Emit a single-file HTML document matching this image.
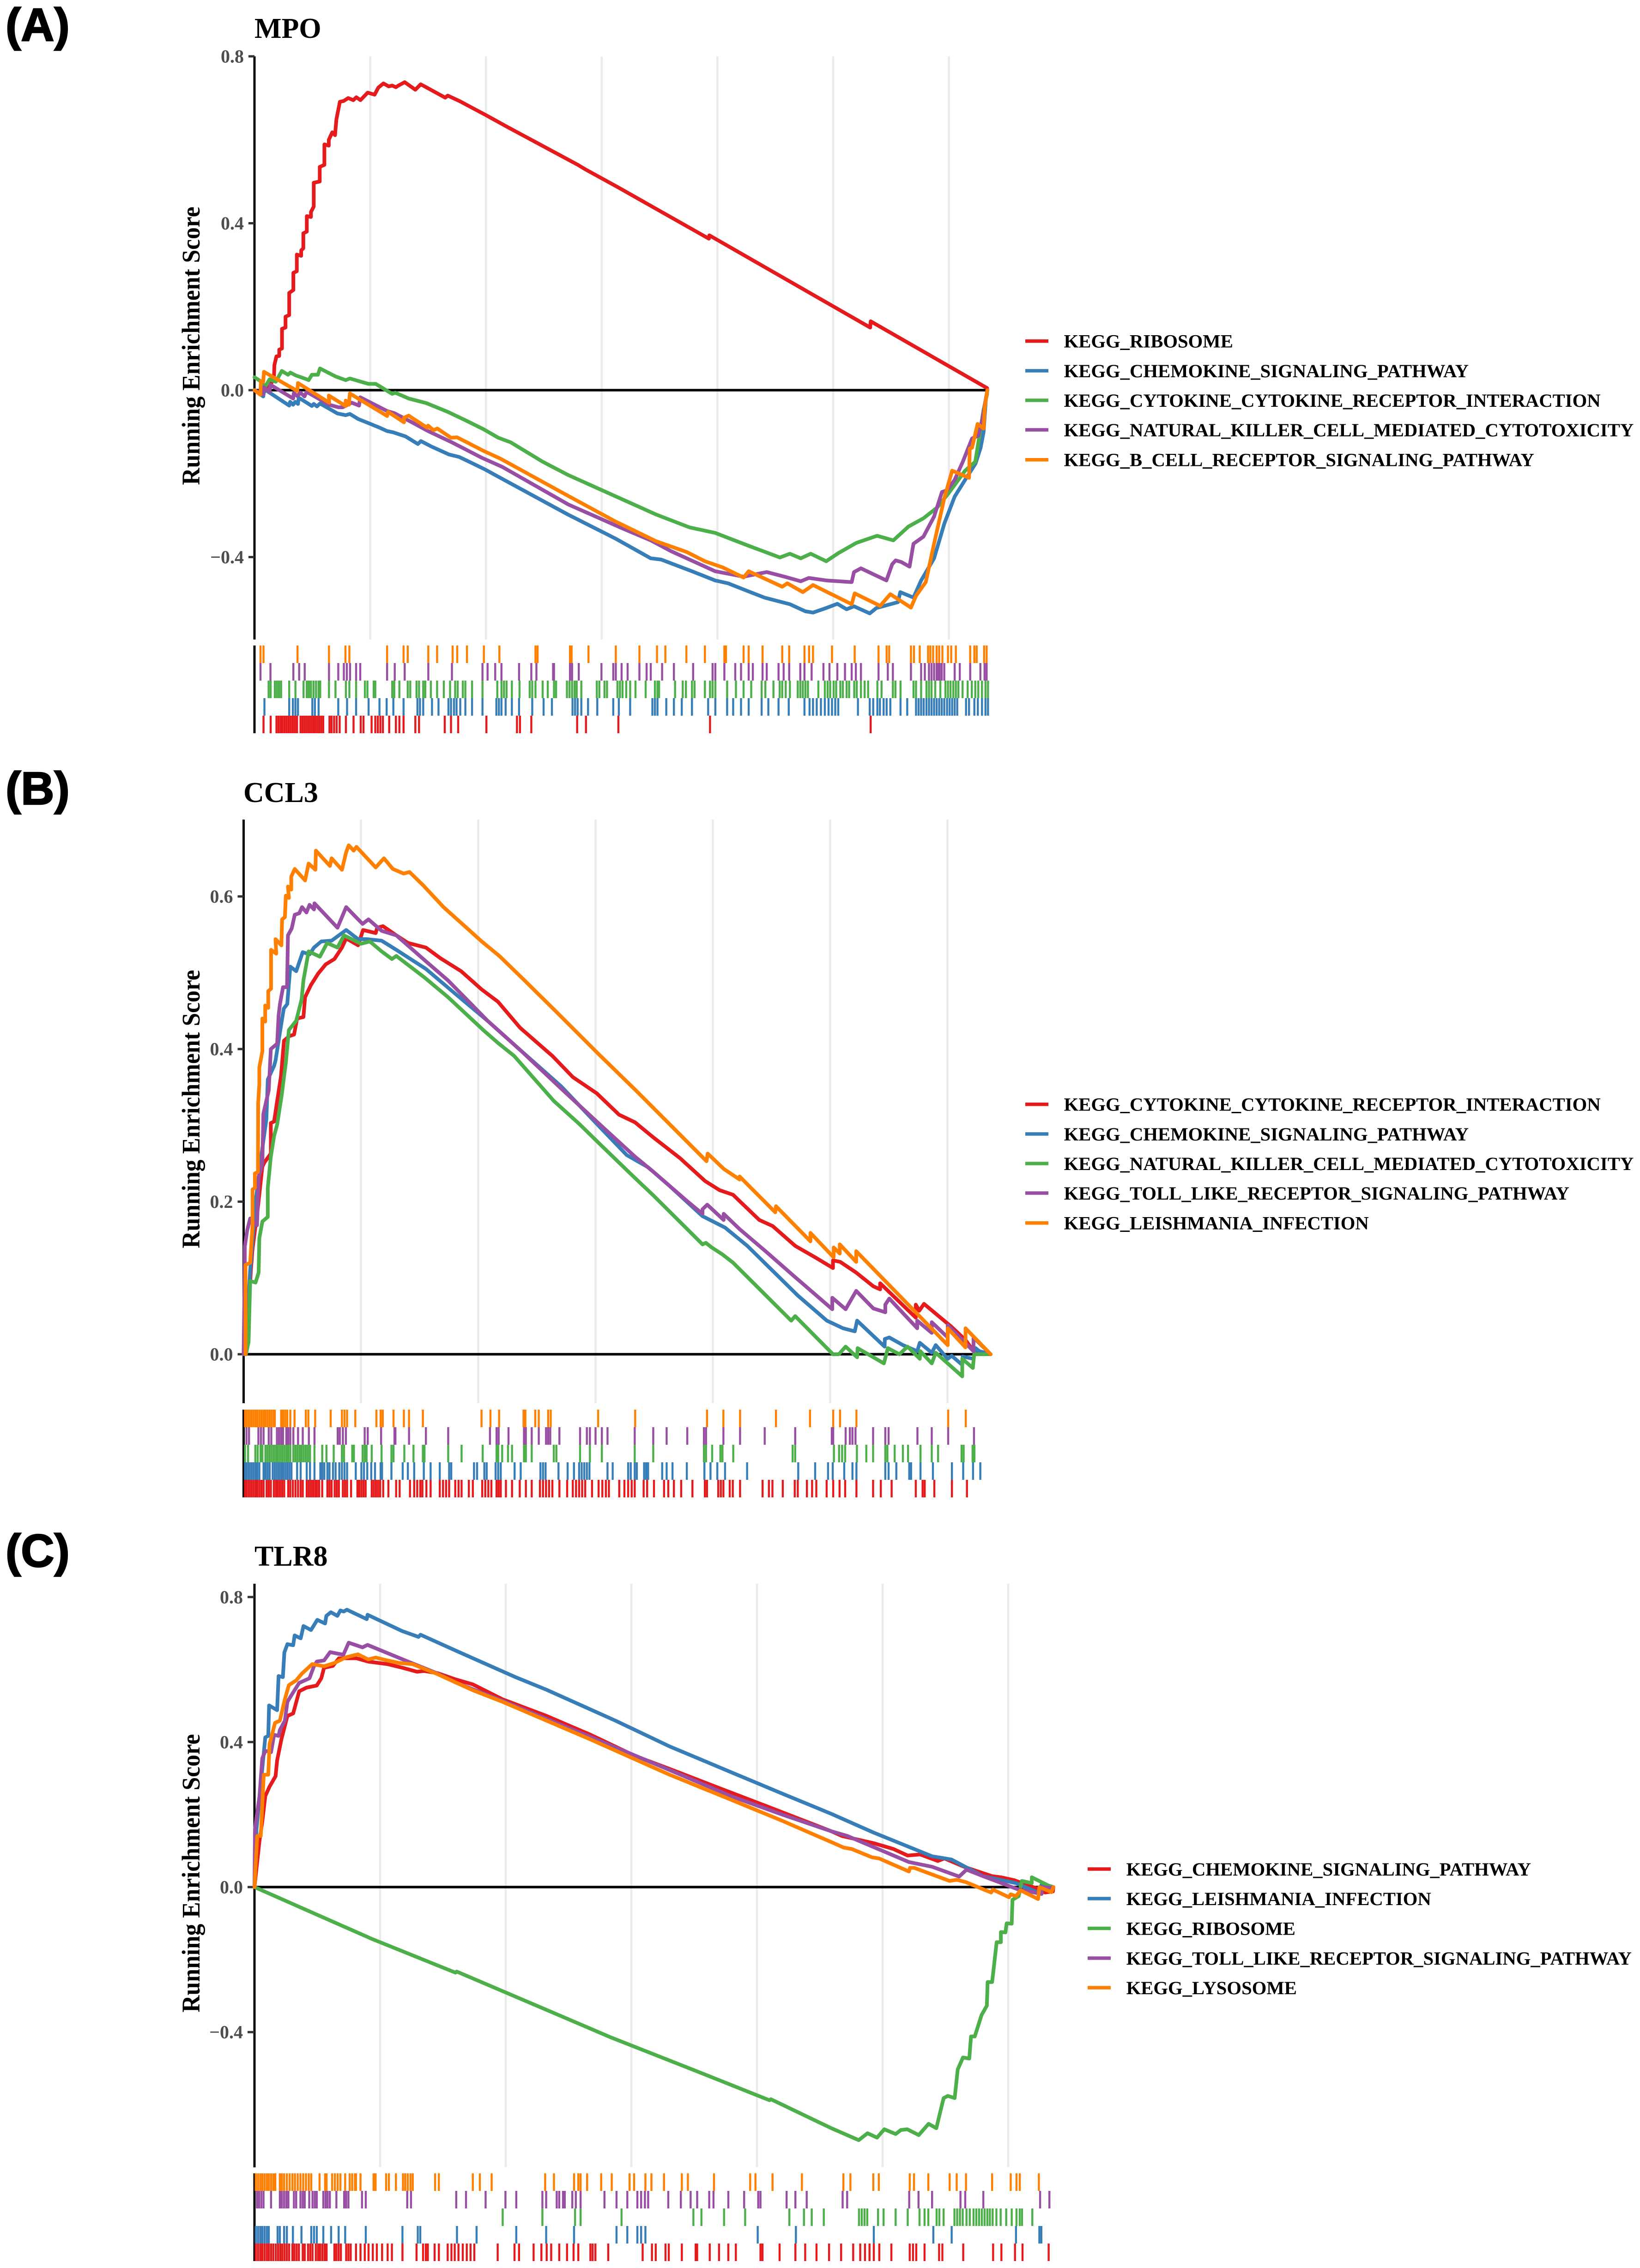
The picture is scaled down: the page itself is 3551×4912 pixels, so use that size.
<!DOCTYPE html>
<html lang="en">
<head>
<meta charset="utf-8">
<title>Running enrichment score plots for MPO, CCL3 and TLR8</title>
<style>
html,body{margin:0;padding:0;background:#fff}
svg{display:block}
text{font-family:"Liberation Serif",serif;font-weight:bold}
.panel-tag{font-family:"Liberation Sans",sans-serif;font-size:100px;fill:#000;stroke:#000;stroke-width:2.5px}
.title{font-size:62px;fill:#000}
.ylab{font-size:55px;fill:#000;text-anchor:middle}
.legend{font-size:40.7px;fill:#000}
.tick-label{font-size:40px;fill:#4d4d4d;text-anchor:end}
</style>
</head>
<body>
<svg id="figure" xmlns="http://www.w3.org/2000/svg" width="3551" height="4912" viewBox="0 0 3551 4912">
<rect width="3551" height="4912" fill="#ffffff"/>

<g id="panel-a"></g>
<g id="panel-b"></g>
<g id="panel-c"></g>

<text class="panel-tag" x="12" y="88">(A)</text>
<text class="title" x="551" y="82">MPO</text>
<text class="ylab" transform="translate(432 749) rotate(-90) scale(.937 1)">Running Enrichment Score</text>
<g>
<rect x="2220" y="735" width="50" height="7.5" fill="#E41A1C"/>
<text class="legend" x="2303.6" y="752.7">KEGG_RIBOSOME</text>
<rect x="2220" y="799.2" width="50" height="7.5" fill="#377EB8"/>
<text class="legend" x="2303.6" y="817">KEGG_CHEMOKINE_SIGNALING_PATHWAY</text>
<rect x="2220" y="863.2" width="50" height="7.5" fill="#4DAF4A"/>
<text class="legend" x="2303.6" y="881">KEGG_CYTOKINE_CYTOKINE_RECEPTOR_INTERACTION</text>
<rect x="2220" y="927.2" width="50" height="7.5" fill="#984EA3"/>
<text class="legend" x="2303.6" y="945">KEGG_NATURAL_KILLER_CELL_MEDIATED_CYTOTOXICITY</text>
<rect x="2220" y="992" width="50" height="7.5" fill="#FF7F00"/>
<text class="legend" x="2303.6" y="1009.7">KEGG_B_CELL_RECEPTOR_SIGNALING_PATHWAY</text>
</g>

<text class="panel-tag" x="12" y="1742">(B)</text>
<text class="title" x="527" y="1737">CCL3</text>
<text class="ylab" transform="translate(432 2402) rotate(-90) scale(.937 1)">Running Enrichment Score</text>
<g>
<rect x="2220" y="2388" width="50" height="7.5" fill="#E41A1C"/>
<text class="legend" x="2303.6" y="2405.7">KEGG_CYTOKINE_CYTOKINE_RECEPTOR_INTERACTION</text>
<rect x="2220" y="2452.2" width="50" height="7.5" fill="#377EB8"/>
<text class="legend" x="2303.6" y="2470">KEGG_CHEMOKINE_SIGNALING_PATHWAY</text>
<rect x="2220" y="2516.2" width="50" height="7.5" fill="#4DAF4A"/>
<text class="legend" x="2303.6" y="2534">KEGG_NATURAL_KILLER_CELL_MEDIATED_CYTOTOXICITY</text>
<rect x="2220" y="2580.2" width="50" height="7.5" fill="#984EA3"/>
<text class="legend" x="2303.6" y="2598">KEGG_TOLL_LIKE_RECEPTOR_SIGNALING_PATHWAY</text>
<rect x="2220" y="2645" width="50" height="7.5" fill="#FF7F00"/>
<text class="legend" x="2303.6" y="2662.7">KEGG_LEISHMANIA_INFECTION</text>
</g>

<text class="panel-tag" x="12" y="3393">(C)</text>
<text class="title" x="551" y="3391">TLR8</text>
<text class="ylab" transform="translate(432 4057) rotate(-90) scale(.937 1)">Running Enrichment Score</text>
<g>
<rect x="2355" y="4044.2" width="50" height="7.5" fill="#E41A1C"/>
<text class="legend" x="2438.6" y="4062">KEGG_CHEMOKINE_SIGNALING_PATHWAY</text>
<rect x="2355" y="4108.2" width="50" height="7.5" fill="#377EB8"/>
<text class="legend" x="2438.6" y="4126">KEGG_LEISHMANIA_INFECTION</text>
<rect x="2355" y="4172.7" width="50" height="7.5" fill="#4DAF4A"/>
<text class="legend" x="2438.6" y="4190.5">KEGG_RIBOSOME</text>
<rect x="2355" y="4237.2" width="50" height="7.5" fill="#984EA3"/>
<text class="legend" x="2438.6" y="4255">KEGG_TOLL_LIKE_RECEPTOR_SIGNALING_PATHWAY</text>
<rect x="2355" y="4301.2" width="50" height="7.5" fill="#FF7F00"/>
<text class="legend" x="2438.6" y="4319">KEGG_LYSOSOME</text>
</g>
</svg>

<script>
// Values. Curves: [rank in thousands, running enrichment score].
const rankGridTicks = [5, 10, 15, 20, 25, 30];

const mpoTickValues = [0.8, 0.4, 0, -0.4];
const mpoTickLabels = ['0.8', '0.4', '0.0', '\u22120.4'];
const mpoEnd = 31.66;
const mpoRed = [[0,0],[.3,-.01],[.6,.005],[.84,.027],[.86,.06],[.95,.081],[1.07,.082],[1.07,.097],[1.19,.1],[1.19,.147],[1.34,.15],[1.34,.176],[1.5,.18],[1.5,.233],[1.68,.24],[1.68,.281],[1.83,.285],[1.83,.325],[2.02,.322],[2.02,.335],[2.11,.34],[2.11,.376],[2.26,.38],[2.26,.417],[2.44,.415],[2.44,.427],[2.56,.44],[2.56,.497],[2.82,.5],[2.82,.535],[3.02,.54],[3.02,.589],[3.21,.586],[3.21,.6],[3.36,.618],[3.48,.611],[3.54,.649],[3.69,.691],[3.85,.693],[4.05,.7],[4.27,.695],[4.4,.702],[4.58,.695],[4.89,.713],[5.19,.708],[5.35,.725],[5.57,.735],[5.8,.728],[5.95,.73],[6.11,.726],[6.25,.731],[6.49,.738],[6.95,.72],[7.18,.733],[7.35,.728],[8.24,.701],[8.35,.706],[8.85,.693],[10,.659],[10.95,.63],[13.97,.54],[14.3,.529],[15.71,.486],[19.63,.363],[19.65,.371],[26.6,.15],[26.62,.165],[31.65,.005],[31.66,0]];
const mpoBlue = [[0,0],[.38,-.015],[.43,.002],[1.5,-.037],[1.54,-.028],[1.67,-.035],[1.76,-.028],[1.88,-.033],[1.91,-.018],[2.48,-.038],[2.56,-.033],[2.7,-.039],[2.83,-.032],[3.59,-.056],[3.94,-.06],[4.12,-.057],[4.48,-.069],[4.97,-.08],[5.41,-.09],[5.73,-.098],[5.99,-.101],[6.53,-.111],[7.06,-.129],[7.19,-.122],[7.64,-.135],[8.4,-.154],[8.84,-.16],[9.29,-.172],[9.96,-.19],[10.45,-.205],[13.54,-.298],[15.57,-.355],[17.12,-.403],[17.57,-.406],[18.9,-.434],[19.9,-.456],[20.46,-.463],[21.24,-.48],[22.03,-.497],[23.13,-.513],[23.8,-.53],[24.13,-.533],[24.7,-.522],[25.18,-.512],[25.58,-.525],[25.9,-.518],[26.58,-.535],[26.87,-.522],[27.8,-.508],[27.9,-.484],[28.47,-.497],[28.8,-.456],[29.36,-.403],[29.8,-.32],[30.25,-.255],[30.7,-.215],[31.15,-.176],[31.37,-.138],[31.5,-.1],[31.6,-.02],[31.66,0]];
const mpoGreen = [[0,.031],[.25,.022],[.47,.009],[.65,.026],[.92,.02],[1.18,.046],[1.45,.037],[1.55,.042],[1.8,.035],[2.16,.028],[2.34,.024],[2.48,.037],[2.74,.037],[2.83,.052],[3.5,.033],[3.94,.024],[4.12,.028],[4.92,.015],[5.24,.015],[5.95,-.009],[6.08,-.006],[6.66,-.02],[7.42,-.031],[8.35,-.052],[9.11,-.072],[9.91,-.094],[10.53,-.114],[11.07,-.125],[12.45,-.1715],[13.54,-.203],[14.9,-.237],[17.35,-.298],[18.8,-.329],[19.9,-.342],[21.35,-.373],[22.7,-.401],[23.13,-.392],[23.6,-.403],[24.03,-.392],[24.7,-.41],[25.24,-.39],[26,-.366],[26.9,-.349],[27.6,-.36],[28.25,-.327],[28.9,-.307],[29.5,-.281],[30,-.246],[30.7,-.193],[31.14,-.1715],[31.5,-.046],[31.65,-.01],[31.66,0]];
const mpoPurple = [[0,0],[.38,-.01],[.4,.007],[.65,-.004],[.69,.013],[1.67,-.02],[1.7,-.007],[1.85,-.014],[1.99,-.006],[2.16,-.015],[2.25,-.004],[3.23,-.035],[3.63,-.041],[3.81,-.041],[4.2,-.03],[4.52,-.037],[4.57,-.017],[5.73,-.05],[6.04,-.055],[6.7,-.074],[7.5,-.098],[8.49,-.124],[9.82,-.162],[10.71,-.184],[13.56,-.274],[15.8,-.329],[17.12,-.36],[18,-.386],[19.9,-.434],[21.13,-.447],[22.13,-.436],[22.9,-.447],[23.6,-.458],[23.95,-.45],[24.7,-.456],[25.8,-.46],[25.9,-.436],[26.2,-.427],[27.3,-.456],[27.55,-.417],[27.7,-.408],[27.95,-.412],[28.3,-.423],[28.47,-.368],[28.9,-.351],[29.36,-.303],[29.7,-.244],[29.92,-.24],[30.25,-.215],[30.6,-.1715],[31,-.116],[31.27,-.109],[31.44,-.07],[31.66,0]];
const mpoOrange = [[0,0],[.25,-.011],[.28,.022],[.38,.02],[.41,.044],[1.85,-.002],[1.88,.017],[3.23,-.03],[3.21,-.013],[3.94,-.038],[3.94,-.025],[4.08,-.035],[4.12,-.008],[5.73,-.062],[5.77,-.052],[6.46,-.077],[6.46,-.066],[6.66,-.061],[7.46,-.09],[7.5,-.085],[7.73,-.096],[7.9,-.092],[8.49,-.114],[8.75,-.113],[9.91,-.146],[10.62,-.164],[13.54,-.253],[15.57,-.314],[17.35,-.362],[18.68,-.388],[19.46,-.41],[20.24,-.425],[21.13,-.449],[21.35,-.434],[22.8,-.471],[23.02,-.463],[23.69,-.484],[24.13,-.467],[25.8,-.513],[25.93,-.487],[27.03,-.517],[27.47,-.489],[28.36,-.521],[28.58,-.493],[29,-.46],[29.36,-.368],[29.8,-.259],[30.14,-.193],[30.87,-.21],[30.9,-.14],[31,-.138],[31.24,-.081],[31.5,-.092],[31.55,-.04],[31.66,0]];
const mpoRugOrange = [.26,.39,1.86,3.22,3.93,4.1,5.73,6.44,6.62,7.51,7.89,8.56,8.76,9.18,9.91,10.58,12.14,12.23,13.63,13.7,14.43,15.61,16.63,17.39,17.75,18.66,19.46,20.3,20.37,21.13,21.35,21.95,22.8,23.1,23.76,23.96,24.13,24.95,25.93,26.96,27.31,27.42,28.36,28.49,28.74,29.1,29.2,29.32,29.47,29.58,29.72,29.96,30.1,30.3,30.92,31.1,31.2,31.52,31.63];
const mpoRugPurple = [.26,.69,1.68,1.93,2.17,3.22,3.62,3.86,3.99,4.13,4.39,4.57,5.73,6.06,6.49,7.51,8.53,9.85,10.07,10.4,10.67,11.43,11.96,12.18,12.9,12.94,13.63,13.72,14.01,14.99,15.5,15.61,15.86,16.12,16.63,16.94,17.12,17.61,18.12,18.95,19.79,19.91,20.3,20.77,21.02,21.35,21.53,21.95,22.13,22.64,22.86,23.1,23.58,23.76,24.07,24.58,24.84,25.18,25.51,25.8,25.98,26.2,26.96,27.36,27.58,28.36,28.8,28.96,29.14,29.25,29.36,29.47,29.55,29.6,29.69,29.8,30.25,30.47,30.92,31.36,31.54,31.63];
const mpoRugGreen = [.61,.7,.88,.97,1.06,1.15,1.5,1.77,2.12,2.26,2.35,2.44,2.55,2.66,2.77,2.84,3.22,3.5,3.95,4.1,4.39,4.77,4.88,5.15,5.22,5.95,6.04,6.26,6.62,6.73,7,7.11,7.29,7.38,7.62,7.89,8.18,8.45,8.67,8.78,9,9.11,9.4,9.85,10.49,10.67,10.78,10.89,11.12,11.45,11.89,12,12.14,12.45,12.67,12.94,13.03,13.5,13.61,13.72,13.83,13.92,14.12,14.79,14.9,15.12,15.23,15.68,15.79,15.9,16.06,16.23,16.46,16.9,17.3,17.41,17.48,18.17,18.5,18.64,18.9,19.01,19.46,19.68,19.79,19.91,20.42,20.8,21.13,21.46,21.91,22.07,22.42,22.69,22.8,22.95,23.13,23.47,23.58,23.69,23.8,23.91,24.36,24.64,24.76,24.87,25.02,25.13,25.31,25.42,25.58,25.69,25.91,26.02,26.2,26.36,26.51,26.91,27.09,27.58,27.69,27.91,28.47,28.58,28.8,29.03,29.14,29.25,29.41,29.63,29.85,29.96,30.07,30.19,30.3,30.41,30.59,30.81,30.99,31.14,31.27,31.43,31.58,31.69];
const mpoRugBlue = [.43,1.5,1.66,1.77,1.88,2.5,2.61,2.77,3.62,4,4.39,4.93,5.4,5.71,6,6.44,7.04,7.15,7.29,7.67,7.95,8.38,8.49,8.62,8.73,8.89,9.11,9.4,9.85,10.45,10.56,10.67,10.85,11.12,11.43,12,12.49,12.85,13.74,13.85,13.96,14.12,14.41,14.81,15.5,15.74,16.23,17.19,17.3,17.41,17.79,18.12,18.46,18.9,19.6,19.91,20.42,20.68,21.02,21.35,21.91,22.2,22.64,23.08,23.76,23.98,24.13,24.29,24.47,24.64,24.8,24.95,25.09,25.22,26.07,26.58,26.73,26.91,27.02,27.18,27.31,27.47,27.91,28.2,28.58,28.69,28.8,28.91,29.03,29.14,29.25,29.36,29.47,29.58,29.69,29.8,29.92,30.03,30.14,30.25,30.36,30.74,30.87,31.1,31.25,31.43,31.58,31.69];
const mpoRugRed = [.39,.7,.95,1.04,1.13,1.21,1.3,1.39,1.48,1.57,1.66,1.75,1.84,1.99,2.08,2.17,2.26,2.35,2.44,2.53,2.61,2.7,2.79,2.88,2.97,3.24,3.33,3.44,3.55,3.68,3.95,4.28,4.59,4.71,5.06,5.22,5.33,5.44,5.55,5.82,6.11,6.26,6.44,6.95,7.11,8.22,8.49,8.8,10.02,11.34,11.47,11.96,13.94,14.32,15.72,19.68,26.62];

const ccl3TickValues = [0.6, 0.4, 0.2, 0];
const ccl3TickLabels = ['0.6', '0.4', '0.2', '0.0'];
const ccl3End = 31.84;
const ccl3Red = [[0,0],[.1,0],[.31,.11],[.38,.138],[.6,.19],[.8,.246],[.9,.252],[1.16,.263],[1.16,.303],[1.3,.305],[1.43,.332],[1.59,.364],[1.72,.411],[1.95,.417],[2.15,.419],[2.28,.44],[2.55,.442],[2.62,.468],[2.87,.484],[3.18,.499],[3.5,.511],[3.87,.518],[4.19,.533],[4.37,.545],[4.88,.536],[5.09,.556],[5.63,.552],[5.69,.559],[5.94,.561],[6.51,.549],[7.01,.539],[7.77,.533],[8.39,.519],[9.27,.502],[10.15,.478],[10.84,.462],[11.78,.428],[13.16,.391],[14.04,.363],[15.05,.342],[16,.314],[16.68,.304],[17.47,.284],[18.6,.257],[19.67,.227],[20.29,.215],[20.86,.209],[21.98,.176],[22.55,.168],[23.51,.142],[24.36,.127],[25.12,.113],[25.12,.123],[25.43,.121],[26.11,.107],[26.84,.089],[27.13,.085],[27.13,.093],[28.65,.048],[28.65,.065],[28.8,.057],[29,.066],[30.17,.036],[30.79,.018],[31.11,.004],[31.84,0]];
const ccl3Blue = [[0,0],[.1,0],[.21,.075],[.28,.11],[.41,.16],[.54,.207],[.8,.27],[.97,.308],[1.03,.36],[1.3,.378],[1.36,.385],[1.55,.422],[1.71,.453],[1.86,.459],[1.99,.508],[2.24,.502],[2.52,.527],[2.81,.524],[3,.533],[3.31,.541],[3.75,.542],[4.37,.556],[4.88,.544],[5.25,.544],[5.88,.542],[6.51,.53],[7.77,.505],[8.77,.479],[10.4,.437],[11.78,.399],[13.54,.351],[15.05,.302],[16.33,.261],[17.24,.245],[18.14,.221],[19.56,.181],[20.52,.166],[21.47,.142],[23.62,.077],[24.86,.044],[25.55,.034],[26.05,.03],[26.15,.044],[27.32,.01],[27.33,.02],[27.52,.022],[28.1,.012],[28.71,.004],[28.82,.015],[29.33,.002],[29.5,.012],[30.01,-.006],[30.18,-.002],[30.63,-.014],[30.65,-.003],[31.11,-.006],[31.2,.008],[31.36,.004],[31.84,0]];
const ccl3Green = [[0,0],[.1,0],[.21,.016],[.28,.096],[.51,.094],[.64,.107],[.67,.152],[.8,.174],[1.03,.18],[1.03,.218],[1.16,.259],[1.3,.286],[1.43,.301],[1.62,.339],[1.8,.382],[1.93,.425],[2.24,.437],[2.47,.465],[2.55,.49],[2.77,.528],[3.25,.521],[3.56,.539],[4,.533],[4.28,.549],[5,.538],[5.38,.541],[5.88,.528],[6.32,.518],[6.51,.522],[7.7,.494],[8.71,.468],[10.21,.425],[10.84,.408],[11.53,.391],[13.22,.332],[14.3,.302],[15.2,.275],[16.68,.231],[17.47,.208],[19.56,.144],[19.7,.146],[19.95,.14],[20.4,.131],[20.86,.12],[23.34,.044],[23.51,.05],[25.12,0],[25.37,0],[25.66,.01],[26.15,-.004],[26.17,.008],[27.29,-.012],[27.46,.008],[27.95,0],[28.3,.01],[28.82,-.006],[28.84,.004],[29.33,-.012],[29.5,.002],[30.63,-.029],[30.63,-.006],[31.08,-.018],[31.14,0],[31.84,0]];
const ccl3Purple = [[0,0],[.05,.12],[.05,.141],[.15,.162],[.28,.178],[.57,.169],[.64,.232],[.8,.25],[.84,.315],[1.07,.346],[1.16,.4],[1.43,.407],[1.49,.444],[1.55,.459],[1.68,.481],[1.85,.481],[1.89,.549],[2.05,.558],[2.18,.576],[2.37,.578],[2.49,.586],[2.68,.579],[2.81,.589],[3,.583],[3.02,.591],[4,.559],[4.37,.586],[5.07,.564],[5.32,.57],[5.88,.555],[6.51,.549],[7.77,.515],[8.71,.49],[10.4,.437],[11.85,.397],[13.54,.348],[15.05,.305],[16.68,.259],[17.47,.239],[18.93,.2],[19.56,.184],[19.56,.19],[19.76,.196],[20.46,.176],[20.46,.184],[21.14,.164],[22.21,.136],[23.51,.101],[25.09,.059],[25.09,.074],[25.66,.059],[26.11,.083],[26.84,.06],[27.35,.055],[27.35,.065],[27.52,.073],[28.71,.034],[28.71,.044],[29.33,.028],[29.33,.042],[30.01,.022],[30.01,.038],[31.11,.004],[31.11,.022],[31.84,0]];
const ccl3Orange = [[.08,0],[.08,.117],[.28,.12],[.38,.169],[.38,.216],[.48,.218],[.48,.237],[.61,.239],[.62,.329],[.67,.354],[.67,.376],[.8,.397],[.8,.44],[.92,.436],[.92,.457],[1.05,.454],[1.05,.476],[1.17,.479],[1.17,.53],[1.39,.525],[1.36,.544],[1.61,.536],[1.64,.57],[1.76,.573],[1.8,.601],[1.93,.598],[1.89,.613],[2.03,.609],[2.03,.626],[2.18,.636],[2.62,.621],[2.77,.643],[3.06,.635],[3.08,.66],[3.68,.64],[3.75,.65],[4.19,.635],[4.37,.658],[4.48,.667],[4.69,.66],[4.81,.665],[5.63,.638],[5.98,.65],[6.36,.636],[6.82,.63],[7.07,.632],[7.64,.615],[8.52,.586],[10.15,.541],[10.9,.522],[11.97,.49],[13.29,.45],[15.11,.394],[16.68,.347],[19.73,.253],[19.78,.263],[20.46,.243],[21.14,.229],[21.14,.233],[22.66,.186],[22.69,.194],[24.16,.148],[24.16,.159],[25.15,.127],[25.15,.14],[25.41,.132],[25.41,.144],[26.11,.121],[26.11,.135],[30.01,.012],[30.01,.034],[30.77,.009],[30.77,.034],[31.84,0]];
const ccl3RugOrange = [.06,.14,.23,.32,.41,.5,.58,.67,.76,.85,.93,1.02,1.11,1.2,1.29,1.33,1.6,1.68,1.77,1.86,1.99,2.17,2.65,2.76,3.05,3.71,4.19,4.3,4.41,4.76,5.66,5.84,5.93,6.39,6.83,7.05,7.64,10.14,10.52,10.89,11.93,12.01,12.43,12.58,12.98,13.09,15.11,16.69,19.75,20.45,21.16,22.69,24.14,25.13,25.42,26.12,30.03,30.78];
const ccl3RugPurple = [.12,.23,.63,.74,.85,1.07,1.18,1.42,1.51,1.6,1.68,1.82,1.9,1.99,2.12,2.32,2.52,2.78,3.02,4.01,4.1,4.23,4.36,5.16,5.29,5.86,6.43,6.47,7.05,7.77,8.72,10.5,10.78,10.87,11.29,11.95,12.03,12.28,12.58,12.89,12.98,13.07,13.46,14.34,14.63,14.76,15,15.27,15.51,16.67,17.46,18.03,18.91,19.62,19.71,20.45,21.16,22.21,23.51,25.07,25.13,25.66,25.84,25.95,26.08,26.83,27.35,27.49,28.72,29.33,30.03,31.13];
const ccl3RugGreen = [.06,.19,.5,.6,.72,.8,.93,1.02,1.11,1.2,1.29,1.38,1.46,1.55,1.64,1.73,1.82,1.9,1.99,2.12,2.21,2.3,2.39,2.47,2.56,2.65,2.74,2.83,3.02,3.35,3.53,3.84,4.19,4.28,4.63,4.7,5.07,5.16,5.24,5.46,5.88,6.3,6.39,6.85,7.24,7.64,7.71,8.72,9.29,10.19,10.78,10.85,11.02,11.27,11.44,11.95,12.03,12.28,13.22,13.33,14.34,14.76,15.27,16.67,17.46,19.62,19.71,19.97,20.32,20.41,20.87,23.4,23.51,25.16,25.38,25.51,25.64,26.14,26.54,26.83,27.35,27.44,27.75,28.1,28.32,28.85,29.33,29.6,30.6,30.69,31.07,31.15];
const ccl3RugBlue = [.06,.14,.23,.32,.41,.5,.58,.67,.85,.93,1.02,1.11,1.24,1.33,1.42,1.51,1.6,1.68,1.77,1.86,1.95,2.04,2.28,2.43,2.69,2.83,3.02,3.27,3.35,3.44,3.57,3.66,3.81,3.92,4.08,4.19,4.3,4.41,4.78,5.02,5.13,5.27,5.44,5.6,5.84,5.9,6.3,6.78,7,7.27,7.68,7.97,8.36,8.76,8.85,9.82,9.95,10.26,10.36,10.74,10.85,10.96,11.55,11.81,12.65,12.76,12.87,13.42,13.81,14.08,14.3,14.41,14.52,14.63,14.74,15.51,15.73,16.39,16.5,16.67,16.76,17.07,17.16,17.24,17.84,18.03,18.28,18.89,19.64,19.9,20.19,20.52,21.46,23.64,24.36,24.91,25.11,25.6,25.95,26.12,27.35,27.49,27.82,28.37,28.45,28.85,29.38,30.19,30.67,31.09,31.4];
const ccl3RugRed = [.06,.14,.23,.32,.41,.5,.58,.67,.76,.85,.98,1.07,1.16,1.29,1.38,1.46,1.55,1.64,1.73,1.9,1.99,2.1,2.21,2.32,2.43,2.52,2.69,2.78,2.87,2.96,3.05,3.13,3.22,3.35,3.57,3.66,3.75,3.88,3.97,4.06,4.23,4.32,4.41,4.58,4.85,4.93,5.02,5.11,5.2,5.46,5.55,5.64,5.73,5.82,5.95,6.17,6.5,6.65,7.09,7.27,7.4,7.53,7.62,7.79,7.97,8.36,8.5,8.63,8.76,9.02,9.16,9.29,9.6,9.77,10.17,10.3,10.43,10.56,10.78,10.87,10.96,11.18,11.44,11.77,12.03,12.28,12.63,12.76,12.89,13.02,13.16,13.46,13.79,14.03,14.17,14.3,14.43,14.56,14.85,15.13,15.29,15.44,15.57,16.01,16.23,16.39,16.54,16.67,17.05,17.2,17.49,17.92,18.1,18.34,18.65,19.13,19.66,19.75,20.23,20.34,20.45,20.72,20.85,21.16,22.12,22.39,22.54,22.98,23.49,23.62,24.01,24.23,24.41,24.85,25.13,25.4,25.64,26.12,26.83,27.16,27.62,28.65,28.94,29.03,29.44,30.19,30.83];

const tlr8TickValues = [0.8, 0.4, 0, -0.4];
const tlr8TickLabels = ['0.8', '0.4', '0.0', '\u22120.4'];
const tlr8End = 31.8;
const tlr8Red = [[0,0],[.2,.128],[.31,.18],[.43,.251],[.6,.277],[.84,.306],[.9,.349],[1.07,.407],[1.31,.472],[1.54,.479],[1.78,.54],[2.07,.55],[2.48,.556],[2.66,.576],[2.77,.605],[3.12,.61],[3.36,.631],[4.06,.631],[4.53,.622],[5.29,.615],[5.88,.605],[6.47,.594],[6.76,.596],[7.29,.59],[8,.573],[8.69,.559],[9.87,.518],[11.63,.472],[13.38,.42],[15.14,.362],[16.52,.326],[18.5,.273],[20.5,.22],[22.96,.154],[23.38,.141],[24.65,.121],[25.43,.105],[26,.087],[26.49,.09],[27.2,.072],[27.46,.079],[28.24,.056],[29.36,.03],[29.71,.027],[30.24,.019],[31.19,-.005],[31.47,-.015],[31.78,-.012],[31.8,0]];
const tlr8Blue = [[0,0],[.08,.16],[.43,.413],[.55,.417],[.58,.501],[.9,.488],[.96,.582],[1.13,.579],[1.19,.647],[1.31,.67],[1.54,.667],[1.6,.694],[1.84,.686],[1.95,.72],[2.25,.709],[2.5,.737],[2.81,.727],[2.86,.748],[3.04,.758],[3.3,.748],[3.42,.763],[3.55,.76],[3.68,.765],[4.47,.739],[4.5,.751],[5.88,.706],[6.53,.69],[6.61,.696],[8.05,.651],[10.39,.579],[11.63,.544],[14.37,.459],[16.52,.388],[19,.316],[21,.258],[22.96,.202],[24.65,.15],[26.97,.085],[27.74,.076],[29,.03],[30.31,.011],[31.19,-.015],[31.33,.007],[31.8,0]];
const tlr8Green = [[0,0],[4.71,-.144],[8,-.236],[8.05,-.233],[11.5,-.335],[14.2,-.415],[17.5,-.505],[20.5,-.588],[20.55,-.585],[22.96,-.665],[24.05,-.698],[24.4,-.679],[24.78,-.691],[25.07,-.668],[25.52,-.681],[25.73,-.67],[25.98,-.668],[26.44,-.684],[26.83,-.653],[27.14,-.665],[27.32,-.613],[27.43,-.582],[27.6,-.576],[27.87,-.582],[27.99,-.503],[28.2,-.47],[28.45,-.473],[28.52,-.412],[28.67,-.412],[28.94,-.353],[29.15,-.327],[29.18,-.262],[29.36,-.262],[29.54,-.152],[29.71,-.152],[29.71,-.124],[29.89,-.125],[29.94,-.1],[30.14,-.101],[30.17,-.035],[30.42,-.025],[30.54,.017],[30.94,.011],[30.94,.027],[31.61,.004],[31.8,0]];
const tlr8Purple = [[0,0],[.02,.16],[.2,.251],[.31,.355],[.43,.375],[.55,.375],[.66,.372],[.78,.42],[.96,.417],[1.01,.433],[1.21,.459],[1.31,.511],[1.54,.537],[1.78,.563],[2.19,.576],[2.36,.608],[2.48,.622],[2.77,.625],[3.01,.648],[3.3,.644],[3.54,.641],[3.75,.674],[4.3,.661],[4.5,.668],[6.11,.622],[7.29,.589],[8.05,.563],[9.87,.514],[13.38,.414],[16.52,.323],[19,.25],[21,.2],[22.96,.154],[23.6,.141],[26.05,.069],[26.97,.056],[28.05,.029],[28.34,.048],[29,.03],[30.38,-.006],[31.33,-.019],[31.33,0],[31.7,-.002],[31.8,0]];
const tlr8Orange = [[0,0],[.11,.141],[.25,.141],[.37,.31],[.55,.31],[.6,.394],[.82,.453],[1.01,.459],[1.21,.518],[1.37,.557],[1.66,.57],[1.89,.589],[2.3,.615],[2.77,.609],[3.18,.618],[3.65,.634],[4.12,.642],[4.53,.628],[4.83,.633],[5.29,.625],[5.76,.618],[6.29,.615],[7.23,.589],[8.69,.543],[9.87,.511],[13.38,.407],[16.52,.31],[19,.24],[21,.183],[22.96,.124],[23.45,.109],[23.77,.105],[24.58,.082],[24.86,.079],[26.05,.043],[26.09,.053],[26.26,.053],[27.67,.017],[27.95,.02],[28.3,.014],[29.32,-.015],[29.39,-.007],[30.03,-.028],[30.1,-.02],[30.31,-.025],[30.49,-.009],[31.19,-.033],[31.24,0],[31.72,-.014],[31.8,0]];
const tlr8RugOrange = [.05,.14,.23,.31,.4,.49,.57,.66,.75,.83,1.01,1.09,1.18,1.29,1.4,1.51,1.61,1.72,1.83,1.94,2.05,2.16,2.26,2.59,2.81,2.87,3.09,3.2,3.31,3.42,3.61,3.79,3.89,4,4.04,4.22,4.74,4.82,5.24,5.35,5.63,5.91,6,6.1,6.21,6.3,7.19,7.34,8.69,8.97,9.44,11.57,11.92,12.72,12.89,12.98,13.24,13.8,14.22,14.93,15.11,15.56,15.8,16.3,17.01,17.25,18.29,19.73,19.94,20.62,21.79,23.44,23.72,24.63,24.85,26.08,26.25,26.82,27.67,27.95,28.32,29.36,30.1,30.33,30.46,31.22];
const tlr8RugPurple = [.1,.18,.27,.36,.66,1.01,1.09,1.18,1.27,1.35,1.57,1.66,1.83,1.92,2,2.18,2.31,2.4,2.48,2.74,2.83,2.91,3,3.26,3.57,3.65,3.74,4.28,4.43,6.08,6.23,8.03,8.42,9.2,9.99,10.42,11.46,11.61,12.03,12.13,12.28,12.35,12.65,12.79,12.98,13.93,14.41,14.84,15.24,15.39,15.54,15.67,16.47,16.97,17.36,17.62,18.1,18.27,18.86,19.49,20.05,20.14,21.18,21.53,21.98,23.41,23.59,26.06,26.43,26.97,28.1,28.29,29.01,31.27,31.64];
const tlr8RugGreen = [9.88,11.46,12.76,12.98,14.61,17.47,17.79,18.69,19.53,21.29,21.87,22.18,22.66,24.06,24.17,24.28,24.39,24.82,25.04,25.52,26,26.47,26.67,26.82,27.15,27.26,27.43,27.86,27.97,28.08,28.19,28.34,28.47,28.62,28.73,28.84,28.95,29.06,29.17,29.27,29.38,29.53,29.7,29.92,30.14,30.33,30.46,30.55,30.96];
const tlr8RugBlue = [.05,.14,.23,.31,.4,.49,.57,.92,1.01,1.18,1.29,1.53,1.87,2.26,2.37,2.48,2.74,3.05,3.35,3.61,4.43,5.89,6.5,6.6,8.06,8.84,10.42,11.61,12.72,14.41,14.84,15.24,15.39,15.56,20.03,21.55,24.65,27.02,27.75,30.31,31.24,31.32];
const tlr8RugRed = [.05,.14,.23,.31,.4,.49,.57,.66,.75,.85,.94,1.03,1.11,1.2,1.29,1.38,1.51,1.59,1.68,1.77,1.92,2,2.13,2.22,2.31,2.44,2.53,2.61,2.7,2.79,2.87,3.18,3.26,3.35,3.44,3.65,3.74,3.83,4.04,4.22,4.39,4.54,4.71,4.87,5.08,5.3,5.47,5.89,6.45,6.71,6.82,6.9,7.17,7.34,7.69,7.84,7.97,8.12,8.29,8.45,8.6,8.75,9.68,10.35,10.53,11.11,11.42,11.63,11.81,12.13,12.44,12.7,12.89,13.37,13.46,13.57,14.08,15.45,15.82,15.97,16.36,16.49,17.01,17.56,17.62,18.12,18.49,18.86,19.16,20.14,20.22,20.9,21.53,21.92,22.37,22.87,23.35,23.83,24.11,24.3,24.48,24.65,24.87,25.35,26.08,26.21,26.34,26.67,27.25,27.38,28.21,29.4,29.73,30.27,30.57,31.61];

// Drawing
const SVGNS = 'http://www.w3.org/2000/svg';
const COLORS = { red: '#E41A1C', blue: '#377EB8', green: '#4DAF4A', purple: '#984EA3', orange: '#FF7F00' };
const RUG_ROW_HEIGHT = 38;

function make(parent, tag, attrs) {
  const el = document.createElementNS(SVGNS, tag);
  for (const k in attrs) el.setAttribute(k, attrs[k]);
  parent.appendChild(el);
  return el;
}

function drawPanel(p) {
  const g = document.getElementById(p.id);
  const scaleX = r => p.x0 + r * p.pxPerRank;
  const scaleY = v => p.y0 - v * p.pxPerScore;

  rankGridTicks.forEach(t => {
    const el = make(g, 'line', { x1: scaleX(t), x2: scaleX(t), y1: p.top, y2: p.bottom, stroke: '#ebebeb', 'stroke-width': 4.6 });
    
    
  });

  const zero = make(g, 'line', { x1: scaleX(0), x2: scaleX(p.end), y1: scaleY(0), y2: scaleY(0), stroke: '#000', 'stroke-width': 5.5 });
  
  

  const axis = make(g, 'line', { x1: p.x0, x2: p.x0, y1: p.top, y2: p.bottom, stroke: '#000', 'stroke-width': 5 });
  
  

  p.tickValues.forEach((v, i) => {
    const tick = make(g, 'line', { x1: p.x0 - p.tickLen, x2: p.x0, y1: scaleY(v), y2: scaleY(v), stroke: '#333', 'stroke-width': 5 });
    
    
    const label = make(g, 'text', { class: 'tick-label', x: p.x0 - p.tickLen - 10, y: scaleY(v) + 13.5 });
    label.textContent = p.tickLabels[i];
    
    
  });

  p.curves.forEach(c => {
    const d = c.points.map((pt, i) => (i ? 'L' : 'M') + scaleX(pt[0]).toFixed(1) + ' ' + scaleY(pt[1]).toFixed(1)).join('');
    const path = make(g, 'path', { d: d, fill: 'none', stroke: COLORS[c.color], 'stroke-width': 8, 'stroke-linejoin': 'round', 'stroke-linecap': 'round' });
    
    
  });

  const rugAxis = make(g, 'line', { x1: p.x0, x2: p.x0, y1: p.rugTop, y2: p.rugTop + 5 * RUG_ROW_HEIGHT, stroke: '#000', 'stroke-width': 5 });
  
  

  p.rugs.forEach((r, row) => {
    const rowGroup = make(g, 'g', { stroke: COLORS[r.color], 'stroke-width': 4.4 });
    
    
    r.hits.forEach(h => {
      const tick = make(rowGroup, 'line', { x1: scaleX(h), x2: scaleX(h), y1: p.rugTop + row * RUG_ROW_HEIGHT, y2: p.rugTop + (row + 1) * RUG_ROW_HEIGHT });
      
      
    });
  });
}

drawPanel({
  id: 'panel-a', x0: 551, pxPerRank: 50.12, y0: 845, pxPerScore: 903.75, top: 122, bottom: 1385, rugTop: 1398, tickLen: 13, end: mpoEnd,
  tickValues: mpoTickValues, tickLabels: mpoTickLabels,
  curves: [
    { name: 'ribosome', color: 'red', points: mpoRed },
    { name: 'chemokine', color: 'blue', points: mpoBlue },
    { name: 'cytokine', color: 'green', points: mpoGreen },
    { name: 'nk-cell', color: 'purple', points: mpoPurple },
    { name: 'b-cell', color: 'orange', points: mpoOrange }
  ],
  rugs: [
    { color: 'orange', hits: mpoRugOrange }, { color: 'purple', hits: mpoRugPurple },
    { color: 'green', hits: mpoRugGreen }, { color: 'blue', hits: mpoRugBlue }, { color: 'red', hits: mpoRugRed }
  ]
});

drawPanel({
  id: 'panel-b', x0: 527.5, pxPerRank: 50.8, y0: 2933, pxPerScore: 1652.5, top: 1775, bottom: 3039, rugTop: 3053, tickLen: 13, end: ccl3End,
  tickValues: ccl3TickValues, tickLabels: ccl3TickLabels,
  curves: [
    { name: 'cytokine', color: 'red', points: ccl3Red },
    { name: 'chemokine', color: 'blue', points: ccl3Blue },
    { name: 'nk-cell', color: 'green', points: ccl3Green },
    { name: 'toll', color: 'purple', points: ccl3Purple },
    { name: 'leishmania', color: 'orange', points: ccl3Orange }
  ],
  rugs: [
    { color: 'orange', hits: ccl3RugOrange }, { color: 'purple', hits: ccl3RugPurple },
    { color: 'green', hits: ccl3RugGreen }, { color: 'blue', hits: ccl3RugBlue }, { color: 'red', hits: ccl3RugRed }
  ]
});

drawPanel({
  id: 'panel-c', x0: 551, pxPerRank: 54.4, y0: 4087, pxPerScore: 785.25, top: 3430, bottom: 4694, rugTop: 4707, tickLen: 15, end: tlr8End,
  tickValues: tlr8TickValues, tickLabels: tlr8TickLabels,
  curves: [
    { name: 'chemokine', color: 'red', points: tlr8Red },
    { name: 'leishmania', color: 'blue', points: tlr8Blue },
    { name: 'ribosome', color: 'green', points: tlr8Green },
    { name: 'toll', color: 'purple', points: tlr8Purple },
    { name: 'lysosome', color: 'orange', points: tlr8Orange }
  ],
  rugs: [
    { color: 'orange', hits: tlr8RugOrange }, { color: 'purple', hits: tlr8RugPurple },
    { color: 'green', hits: tlr8RugGreen }, { color: 'blue', hits: tlr8RugBlue }, { color: 'red', hits: tlr8RugRed }
  ]
});
</script>
</body>
</html>
